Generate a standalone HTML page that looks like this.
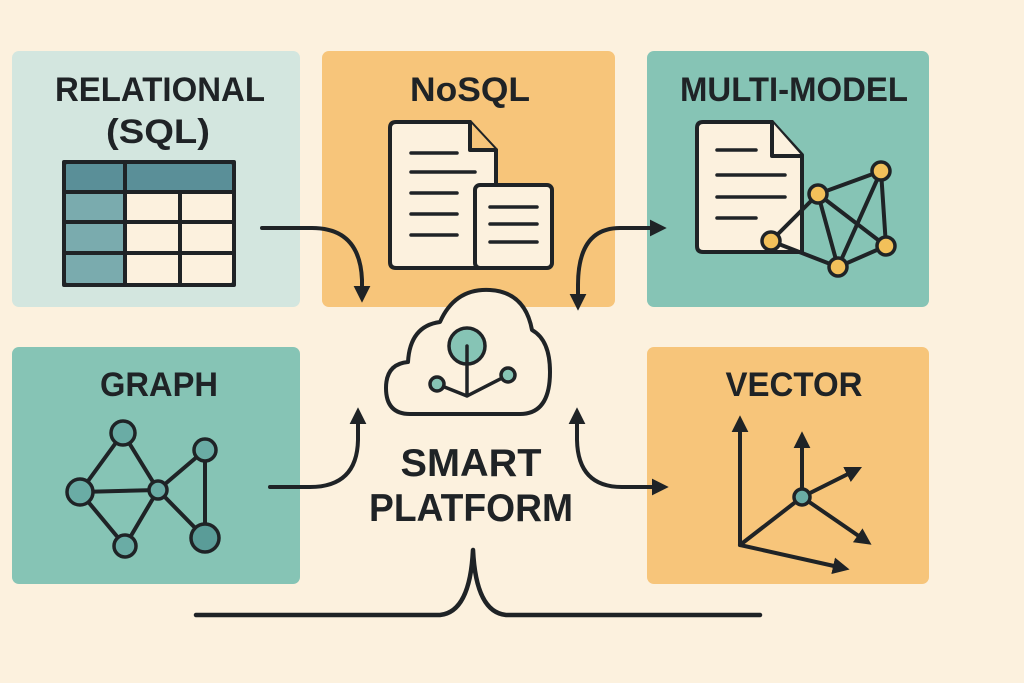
<!DOCTYPE html>
<html><head><meta charset="utf-8"><style>
html,body{margin:0;padding:0;background:#fcf1de;}
svg{display:block}
text{font-family:"Liberation Sans",sans-serif;font-weight:bold;fill:#1f2326;text-anchor:middle}
</style></head><body>
<svg width="1024" height="683" viewBox="0 0 1024 683" xmlns="http://www.w3.org/2000/svg">
<defs>
<marker id="ah" viewBox="0 0 10 10" refX="6" refY="5" markerWidth="4.2" markerHeight="4.2" orient="auto"><path d="M0,0 L10,5 L0,10 Z" fill="#1f2326"/></marker>
</defs>
<rect width="1024" height="683" fill="#fcf1de"/>
<rect x="12" y="51" width="288" height="256" rx="7" fill="#d3e6df"/>
<rect x="322" y="51" width="293" height="256" rx="7" fill="#f7c57a"/>
<rect x="647" y="51" width="282" height="256" rx="7" fill="#86c4b5"/>
<rect x="12" y="347" width="288" height="237" rx="7" fill="#86c4b5"/>
<rect x="647" y="347" width="282" height="237" rx="7" fill="#f7c57a"/>

<text x="160" y="101" font-size="34" textLength="210" lengthAdjust="spacingAndGlyphs">RELATIONAL</text>
<text x="158" y="143" font-size="34" textLength="104" lengthAdjust="spacingAndGlyphs">(SQL)</text>
<text x="470" y="101" font-size="34" textLength="120" lengthAdjust="spacingAndGlyphs">NoSQL</text>
<text x="794" y="101" font-size="34" textLength="228" lengthAdjust="spacingAndGlyphs">MULTI-MODEL</text>
<text x="159" y="396" font-size="34" textLength="118" lengthAdjust="spacingAndGlyphs">GRAPH</text>
<text x="794" y="396" font-size="34" textLength="137" lengthAdjust="spacingAndGlyphs">VECTOR</text>
<text x="471" y="476" font-size="39" textLength="141" lengthAdjust="spacingAndGlyphs">SMART</text>
<text x="471" y="521" font-size="39" textLength="204" lengthAdjust="spacingAndGlyphs">PLATFORM</text>

<g stroke="#1f2326" stroke-width="4" fill="none" stroke-linecap="round" stroke-linejoin="round">
<rect x="64" y="162" width="170" height="123" fill="#fcf1de"/>
<rect x="64" y="162" width="170" height="30" fill="#5a8f98" stroke="none"/>
<rect x="64" y="192" width="61" height="93" fill="#7aabae" stroke="none"/>
<rect x="64" y="162" width="170" height="123" rx="3"/>
<line x1="64" y1="192" x2="234" y2="192"/><line x1="64" y1="222" x2="234" y2="222"/><line x1="64" y1="253" x2="234" y2="253"/>
<line x1="125" y1="162" x2="125" y2="285"/><line x1="180" y1="192" x2="180" y2="285"/>

<path d="M390,128 Q390,122 396,122 L470,122 L496,150 L496,262 Q496,268 490,268 L396,268 Q390,268 390,262 Z" fill="#fcf1de"/>
<path d="M470,122 L470,150 L496,150" fill="#f7c57a"/>
<g stroke-width="3.5"><line x1="411" y1="153" x2="457" y2="153"/><line x1="411" y1="172" x2="475" y2="172"/><line x1="411" y1="193" x2="457" y2="193"/><line x1="411" y1="214" x2="457" y2="214"/><line x1="411" y1="235" x2="457" y2="235"/></g>
<rect x="475" y="185" width="77" height="83" rx="5" fill="#fcf1de"/>
<g stroke-width="3.5"><line x1="490" y1="207" x2="537" y2="207"/><line x1="490" y1="224" x2="537" y2="224"/><line x1="490" y1="242" x2="537" y2="242"/></g>

<path d="M697,128 Q697,122 703,122 L772,122 L802,155 L802,252 L703,252 Q697,252 697,246 Z" fill="#fcf1de"/>
<path d="M772,122 L772,156 L802,156" fill="#fcf1de"/>
<g stroke-width="3.5"><line x1="717" y1="150" x2="756" y2="150"/><line x1="717" y1="175" x2="785" y2="175"/><line x1="717" y1="197" x2="785" y2="197"/><line x1="717" y1="218" x2="756" y2="218"/></g>
<path d="M771,241 L818,194 L881,171 L838,267 L771,241 M818,194 L838,267 M818,194 L886,246 L881,171 M838,267 L886,246"/>
<g fill="#f2c05a" stroke-width="3.5"><circle cx="818" cy="194" r="9"/><circle cx="881" cy="171" r="9"/><circle cx="886" cy="246" r="9"/><circle cx="838" cy="267" r="9"/><circle cx="771" cy="241" r="9"/></g>

<path d="M123,433 L80,492 L125,546 L158,490 L123,433 M80,492 L158,490 L205,450 L205,538 L158,490"/>
<g fill="#6aaca5" stroke-width="3.5"><circle cx="123" cy="433" r="12"/><circle cx="80" cy="492" r="13"/><circle cx="158" cy="490" r="9"/><circle cx="205" cy="450" r="11"/><circle cx="125" cy="546" r="11"/><circle cx="205" cy="538" r="14" fill="#5a9c98"/></g>

<line x1="740" y1="545" x2="740" y2="422" marker-end="url(#ah)"/>
<line x1="740" y1="545" x2="843" y2="568" marker-end="url(#ah)"/>
<line x1="740" y1="545" x2="802" y2="497"/>
<line x1="802" y1="497" x2="802" y2="438" marker-end="url(#ah)"/>
<line x1="802" y1="497" x2="856" y2="470" marker-end="url(#ah)"/>
<line x1="802" y1="497" x2="866" y2="541" marker-end="url(#ah)"/>
<circle cx="802" cy="497" r="8" fill="#6aaca5" stroke-width="3.5"/>

<path d="M410,414 Q386,414 386,388 Q386,364 408,362 Q410,326 440,322 Q455,288 490,290 Q525,292 532,330 Q550,340 550,372 Q550,414 520,414 Z" fill="#fcf1de"/>
<circle cx="467" cy="346" r="18" fill="#86c4b5" stroke-width="3.5"/>
<path d="M467,346 L467,396 M437,384 L467,396 L508,375" stroke-width="3.5"/>
<circle cx="437" cy="384" r="7" fill="#86c4b5" stroke-width="3.5"/>
<circle cx="508" cy="375" r="7" fill="#86c4b5" stroke-width="3.5"/>

<path d="M262,228 L312,228 Q360,228 362,280 L362,296" marker-end="url(#ah)"/>
<path d="M660,228 L620,228 Q578,228 578,285 L578,304" marker-end="url(#ah)"/>
<path d="M620,228 L660,228" marker-end="url(#ah)"/>
<path d="M270,487 L310,487 Q357,487 358,440 L358,414" marker-end="url(#ah)"/>
<path d="M660,487 L622,487 Q578,487 577,440 L577,414" marker-end="url(#ah)"/>
<path d="M622,487 L662,487" marker-end="url(#ah)"/>
<path d="M196,615 L440,615 Q470,612 473,550 Q476,612 506,615 L760,615" stroke-width="4.5"/>
</g>
</svg>
</body></html>
